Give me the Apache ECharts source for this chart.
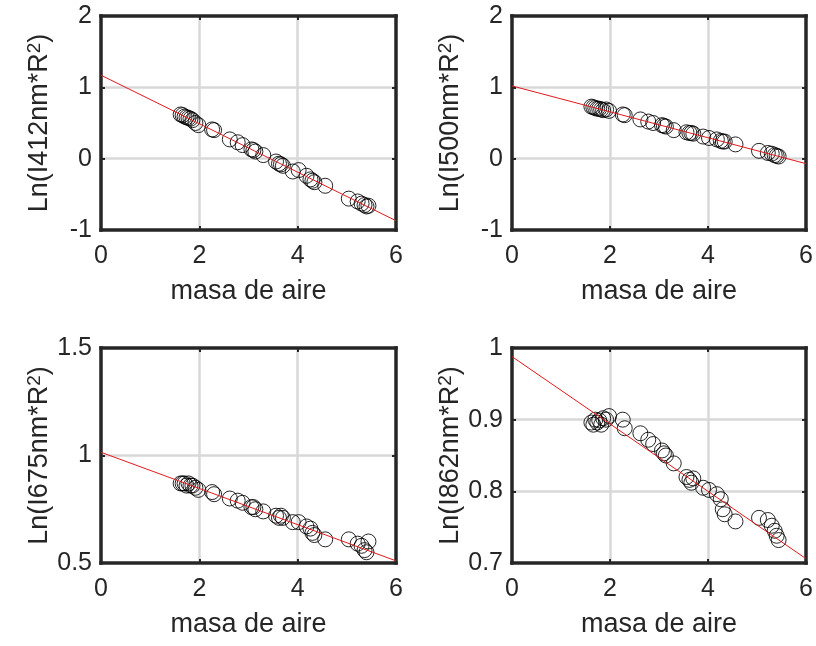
<!DOCTYPE html>
<html>
<head>
<meta charset="utf-8">
<script src="https://cdn.jsdelivr.net/npm/echarts@6/dist/echarts.min.js"></script>
<style>html,body{margin:0;padding:0;background:#fff;}#c{width:816px;height:646px;}</style>
</head>
<body>
<div id="c"></div>
<script>
// Shared x values (air mass)
const airMass = [1.62,1.66,1.70,1.74,1.78,1.82,1.86,1.92,1.98,2.26,2.30,2.62,2.78,2.88,3.06,3.10,3.14,3.30,3.56,3.62,3.66,3.70,3.90,4.02,4.18,4.26,4.30,4.34,4.56,5.04,5.22,5.30,5.36,5.40,5.44];
// Ln(I*R^2) values for each wavelength
const ln412 = [0.62,0.61,0.59,0.58,0.57,0.56,0.54,0.50,0.47,0.41,0.40,0.27,0.23,0.19,0.13,0.12,0.10,0.05,-0.04,-0.07,-0.08,-0.10,-0.18,-0.16,-0.24,-0.29,-0.31,-0.33,-0.38,-0.56,-0.60,-0.63,-0.65,-0.67,-0.66];
const ln500 = [0.73,0.72,0.71,0.70,0.70,0.69,0.68,0.69,0.67,0.62,0.61,0.55,0.52,0.50,0.47,0.46,0.45,0.40,0.37,0.36,0.36,0.35,0.31,0.29,0.27,0.25,0.24,0.24,0.20,0.11,0.08,0.07,0.05,0.04,0.03];
const ln675 = [0.87,0.87,0.87,0.86,0.87,0.86,0.86,0.85,0.84,0.83,0.82,0.80,0.79,0.78,0.76,0.76,0.75,0.74,0.72,0.71,0.72,0.71,0.69,0.69,0.67,0.66,0.64,0.63,0.61,0.61,0.59,0.58,0.56,0.55,0.60];
const ln862 = [0.896,0.893,0.900,0.896,0.899,0.893,0.902,0.900,0.905,0.900,0.888,0.881,0.872,0.866,0.857,0.853,0.850,0.839,0.820,0.816,0.812,0.818,0.805,0.802,0.796,0.789,0.775,0.768,0.758,0.763,0.760,0.752,0.745,0.738,0.732];
// Fitted lines: values at x = 0 and x = 6
const fitX = [0, 6];
const fit412 = [1.17, -0.87];
const fit500 = [1.02, -0.07];
const fit675 = [1.015, 0.51];
const fit862 = [0.988, 0.706];
// Axis settings
const yLabels = ['Ln(I412nm*R{sup|2})', 'Ln(I500nm*R{sup|2})', 'Ln(I675nm*R{sup|2})', 'Ln(I862nm*R{sup|2})'];
const yRanges = [[-1, 2, 1], [-1, 2, 1], [0.5, 1.5, 0.5], [0.7, 1.0, 0.1]];
const xName = 'masa de aire';

const ys = [ln412, ln500, ln675, ln862];
const fits = [fit412, fit500, fit675, fit862];
const FONT = 'Liberation Sans, Arial, sans-serif';
const TXT = '#262626';
const FRAME = '#262626';

const grids = [
  {left: 101, top: 16, width: 295, height: 214},
  {left: 512, top: 16, width: 295, height: 214},
  {left: 101, top: 348, width: 295, height: 215},
  {left: 512, top: 348, width: 295, height: 215}
];

const split = {show: true, showMinLine: false, showMaxLine: false, lineStyle: {color: '#d8d8d8', width: 2.5}};
const tick = {show: true, inside: true, length: 4, lineStyle: {color: FRAME, width: 2}};
const frameLine = {show: true, onZero: false, lineStyle: {color: FRAME, width: 3.5, cap: 'square'}};

const xAxes = [], yAxes = [];
grids.forEach((g, i) => {
  xAxes.push({
    type: 'value', gridIndex: i, min: 0, max: 6, interval: 2, position: 'bottom',
    name: xName, nameLocation: 'middle', nameGap: 48,
    nameTextStyle: {fontSize: 27, color: TXT, fontFamily: FONT},
    axisLine: frameLine, axisTick: tick,
    axisLabel: {fontSize: 25, color: TXT, fontFamily: FONT, margin: 14},
    splitLine: split
  });
  xAxes.push({
    type: 'value', gridIndex: i, min: 0, max: 6, interval: 2, position: 'top',
    axisLine: frameLine, axisTick: tick, axisLabel: {show: false}, splitLine: {show: false}
  });
  yAxes.push({
    type: 'value', gridIndex: i, min: yRanges[i][0], max: yRanges[i][1], interval: yRanges[i][2], position: 'left',
    name: yLabels[i], nameLocation: 'middle', nameGap: 46, nameRotate: 90,
    nameTextStyle: {fontSize: 27, color: TXT, fontFamily: FONT,
      rich: {sup: {fontSize: 19, color: TXT, fontFamily: FONT, verticalAlign: 'top', lineHeight: 30}}},
    axisLine: frameLine, axisTick: tick,
    axisLabel: {fontSize: 25, color: TXT, fontFamily: FONT, margin: 9,
      formatter: v => String(Math.round(v * 10) / 10)},
    splitLine: split
  });
  yAxes.push({
    type: 'value', gridIndex: i, min: yRanges[i][0], max: yRanges[i][1], interval: yRanges[i][2], position: 'right',
    axisLine: frameLine, axisTick: tick, axisLabel: {show: false}, splitLine: {show: false}
  });
});

const option = {
  animation: false,
  backgroundColor: '#fff',
  grid: grids,
  xAxis: xAxes,
  yAxis: yAxes,
  series: []
};

ys.forEach((arr, i) => {
  option.series.push({
    type: 'scatter', xAxisIndex: 2 * i, yAxisIndex: 2 * i,
    data: airMass.map((x, k) => [x, arr[k]]),
    symbol: 'circle', symbolSize: 15,
    itemStyle: {color: 'rgba(0,0,0,0)', borderColor: '#000', borderWidth: 1, opacity: 0.85},
    z: 2
  });
});
fits.forEach((arr, i) => {
  option.series.push({
    type: 'line', xAxisIndex: 2 * i, yAxisIndex: 2 * i,
    data: fitX.map((x, k) => [x, arr[k]]),
    symbol: 'none', lineStyle: {color: '#e41a1c', width: 1}, z: 3
  });
});

const chart = echarts.init(document.getElementById('c'), null, {renderer: 'canvas'});
chart.setOption(option);
</script>
</body>
</html>
